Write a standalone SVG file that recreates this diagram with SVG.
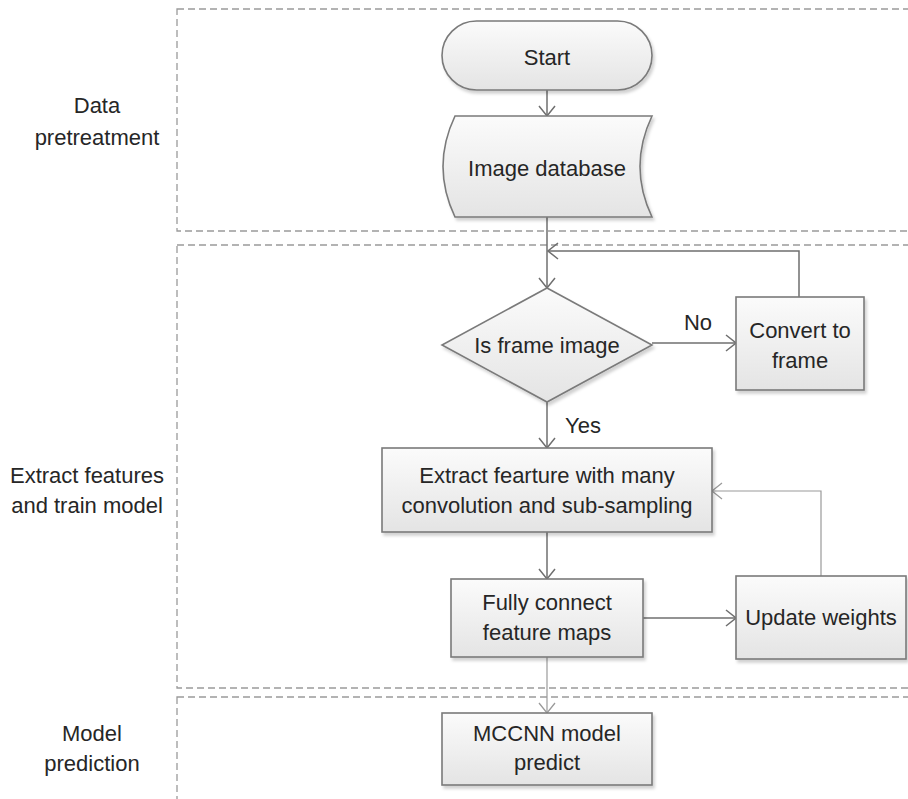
<svg xmlns="http://www.w3.org/2000/svg" width="908" height="799" viewBox="0 0 908 799">
  <defs>
    <linearGradient id="boxFill" x1="0" y1="0" x2="0" y2="1">
      <stop offset="0" stop-color="#fbfbfb"/>
      <stop offset="1" stop-color="#e4e4e4"/>
    </linearGradient>
    <filter id="shadow" x="-10%" y="-10%" width="125%" height="130%">
      <feDropShadow dx="2" dy="3" stdDeviation="1.5" flood-color="#000" flood-opacity="0.18"/>
    </filter>
    <marker id="arrow" viewBox="0 0 12 18" refX="11" refY="9" markerWidth="12" markerHeight="18" markerUnits="userSpaceOnUse" orient="auto">
      <path d="M1,1 L11,9 L1,17" fill="none" stroke="#6f6f6f" stroke-width="1.5"/>
    </marker>
    <marker id="arrowLight" viewBox="0 0 12 18" refX="11" refY="9" markerWidth="12" markerHeight="18" markerUnits="userSpaceOnUse" orient="auto">
      <path d="M1,1 L11,9 L1,17" fill="none" stroke="#9a9a9a" stroke-width="1.3"/>
    </marker>
  </defs>
  <style>
    .lane { fill: none; stroke: #9a9a9a; stroke-width: 1.3; stroke-dasharray: 7 4; }
    .shape { fill: url(#boxFill); stroke: #7a7a7a; stroke-width: 1.6; filter: url(#shadow); }
    .label { font-family: "Liberation Sans", Arial, sans-serif; font-size: 22px; fill: #262626; text-anchor: middle; dominant-baseline: central; }
    .conn { fill: none; stroke: #6f6f6f; stroke-width: 1.5; marker-end: url(#arrow); }
    .connLight { fill: none; stroke: #9a9a9a; stroke-width: 1.2; marker-end: url(#arrowLight); }
  </style>

  <rect width="908" height="799" fill="#ffffff"/>

  <!-- swimlanes -->
  <g id="lanes">
    <rect class="lane" x="177" y="9" width="760" height="222"/>
    <rect class="lane" x="177" y="245" width="760" height="443"/>
    <rect class="lane" x="177" y="697" width="760" height="140"/>
    <text class="label" x="97" y="105">Data</text>
    <text class="label" x="97" y="137">pretreatment</text>
    <text class="label" x="87" y="475">Extract features</text>
    <text class="label" x="87" y="505">and train model</text>
    <text class="label" x="92" y="733">Model</text>
    <text class="label" x="92" y="763">prediction</text>
  </g>

  <!-- connectors -->
  <g id="connectors">
    <path class="conn" d="M547,90 V116"/>
    <path class="conn" d="M547,217 V288"/>
    <path class="conn" d="M799,297 V251 H548"/>
    <path class="conn" d="M652,343 H736"/>
    <path class="conn" d="M547,402 V448"/>
    <path class="conn" d="M547,532 V579"/>
    <path class="conn" d="M643,618 H736"/>
    <path class="connLight" d="M821,576 V491 H712"/>
    <path class="connLight" d="M547,657 V713"/>
    <text class="label" x="698" y="322">No</text>
    <text class="label" x="583" y="425">Yes</text>
  </g>

  <g id="start">
    <rect class="shape" x="442" y="21" width="210" height="69" rx="34.5" ry="34.5"/>
    <text class="label" x="547" y="57">Start</text>
  </g>

  <g id="image-database">
    <path class="shape" d="M455,116 L652,116 Q628,166.5 652,217 L455,217 Q431,166.5 455,116 Z"/>
    <text class="label" x="547" y="168">Image database</text>
  </g>

  <g id="is-frame-image">
    <polygon class="shape" points="547,288 652,345 547,402 442,345"/>
    <text class="label" x="547" y="345">Is frame image</text>
  </g>

  <g id="convert-to-frame">
    <rect class="shape" x="736" y="297" width="128" height="93"/>
    <text class="label" x="800" y="330">Convert to</text>
    <text class="label" x="800" y="360">frame</text>
  </g>

  <g id="extract-feature">
    <rect class="shape" x="382" y="448" width="330" height="84"/>
    <text class="label" x="547" y="475">Extract fearture with many</text>
    <text class="label" x="547" y="505">convolution and sub-sampling</text>
  </g>

  <g id="fully-connect">
    <rect class="shape" x="451" y="579" width="192" height="78"/>
    <text class="label" x="547" y="602">Fully connect</text>
    <text class="label" x="547" y="632">feature maps</text>
  </g>

  <g id="update-weights">
    <rect class="shape" x="736" y="576" width="170" height="83"/>
    <text class="label" x="821" y="617">Update weights</text>
  </g>

  <g id="mccnn-predict">
    <rect class="shape" x="442" y="713" width="210" height="72"/>
    <text class="label" x="547" y="733">MCCNN model</text>
    <text class="label" x="547" y="762">predict</text>
  </g>
</svg>
